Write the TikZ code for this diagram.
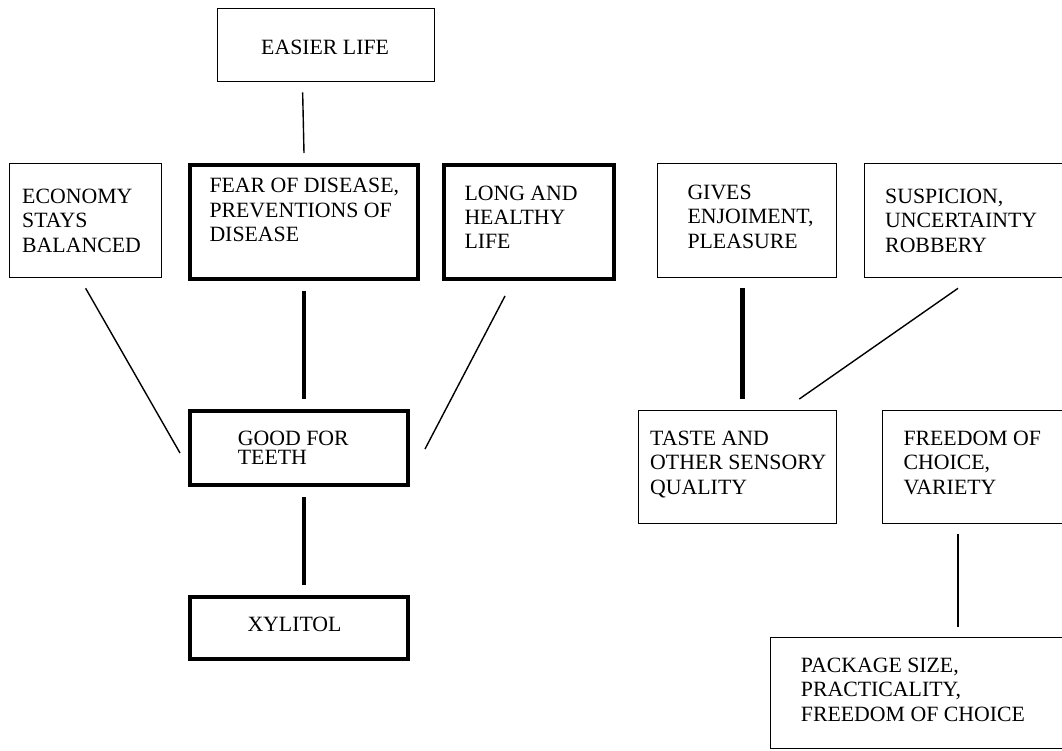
\documentclass[tikz,border=0pt]{standalone}
\usepackage{fontspec}
\setmainfont{Liberation Serif}
\usetikzlibrary{calc}
\newcommand\mlines[1]{\begin{tabular}[t]{@{}l@{}}#1\end{tabular}}
\tikzset{
  thinbox/.style={draw=black, line width=1.3pt, rectangle, inner sep=0pt, anchor=north west},
  thickbox/.style={draw=black, line width=4pt, rectangle, inner sep=0pt, anchor=north west},
  lbl/.style={anchor=base west, inner sep=0pt, font=\fontsize{21.8}{24.4}\selectfont},
  thinlink/.style={line width=1.4pt},
  thicklink/.style={line width=4.5pt},
}
\begin{document}
\begin{tikzpicture}[x=1pt,y=-1pt]
\useasboundingbox (0,0) rectangle (1062,750);
\clip (0,0) rectangle (1062,750);
% boxes
\node[thinbox, minimum width=217pt, minimum height=73pt] (easier) at (217,8) {};
\node[thinbox, minimum width=152pt, minimum height=114pt] (econ) at (9,163) {};
\node[thickbox, minimum width=228pt, minimum height=114pt] (fear) at (188,163) {};
\node[thickbox, minimum width=170pt, minimum height=114pt] (long) at (442,163) {};
\node[thinbox, minimum width=179pt, minimum height=114pt] (gives) at (657,163) {};
\node[thinbox, minimum width=216pt, minimum height=114pt] (susp) at (864,163) {};
\node[thickbox, minimum width=218pt, minimum height=74pt] (good) at (188,409) {};
\node[thickbox, minimum width=218pt, minimum height=62pt] (xyl) at (188,595) {};
\node[thinbox, minimum width=198pt, minimum height=113pt] (taste) at (638,410) {};
\node[thinbox, minimum width=198pt, minimum height=113pt] (free) at (882,410) {};
\node[thinbox, minimum width=310pt, minimum height=111pt] (pack) at (770,637) {};
% labels
\node[lbl] at (261,54) {EASIER LIFE};
\node[lbl] at (22,203.3) {\mlines{ECONOMY\\STAYS\\BALANCED}};
\node[lbl] at (209.3,192.7) {\mlines{FEAR OF DISEASE,\\PREVENTIONS OF\\DISEASE}};
\node[lbl] at (464.3,200) {\mlines{LONG AND\\HEALTHY\\LIFE}};
\node[lbl] at (687.3,199.3) {\mlines{GIVES\\ENJOIMENT,\\PLEASURE}};
\node[lbl] at (885,203.3) {\mlines{SUSPICION,\\UNCERTAINTY\\ROBBERY}};
\node[lbl] at (237.7,445.3) {\mlines{GOOD FOR\\[-5.4pt]TEETH}};
\node[lbl] at (247.3,631) {XYLITOL};
\node[lbl] at (650,445.3) {\mlines{TASTE AND\\OTHER SENSORY\\QUALITY}};
\node[lbl] at (903.3,445.3) {\mlines{FREEDOM OF\\CHOICE,\\VARIETY}};
\node[lbl] at (800.7,672.3) {\mlines{PACKAGE SIZE,\\PRACTICALITY,\\FREEDOM OF CHOICE}};
% connectors
\draw[thinlink] ($(easier.south)+(-23.5,10)$) -- ($(fear.north)+(0,-10)$);
\draw[thinlink] ($(econ.south)+(0,10)$) -- ($(good.west)+(-8,5)$);
\draw[thicklink] ($(fear.south)+(0,10)$) -- ($(good.north)+(5,-10)$);
\draw[thinlink] ($(long.south)+(-24,15)$) -- ($(good.east)+(15,1)$);
\draw[thicklink] ($(good.south)+(5,10)$) -- ($(xyl.north)+(5,-10)$);
\draw[thicklink] ($(gives.south)+(-4.5,10)$) -- ($(taste.north)+(5,-11)$);
\draw[thinlink] ($(susp.south west)+(94,10)$) -- ($(taste.north east)+(-38,-11)$);
\draw[thinlink] ($(free.south west)+(76,10)$) -- ($(pack.north west)+(188,-10)$);
\end{tikzpicture}
\end{document}
